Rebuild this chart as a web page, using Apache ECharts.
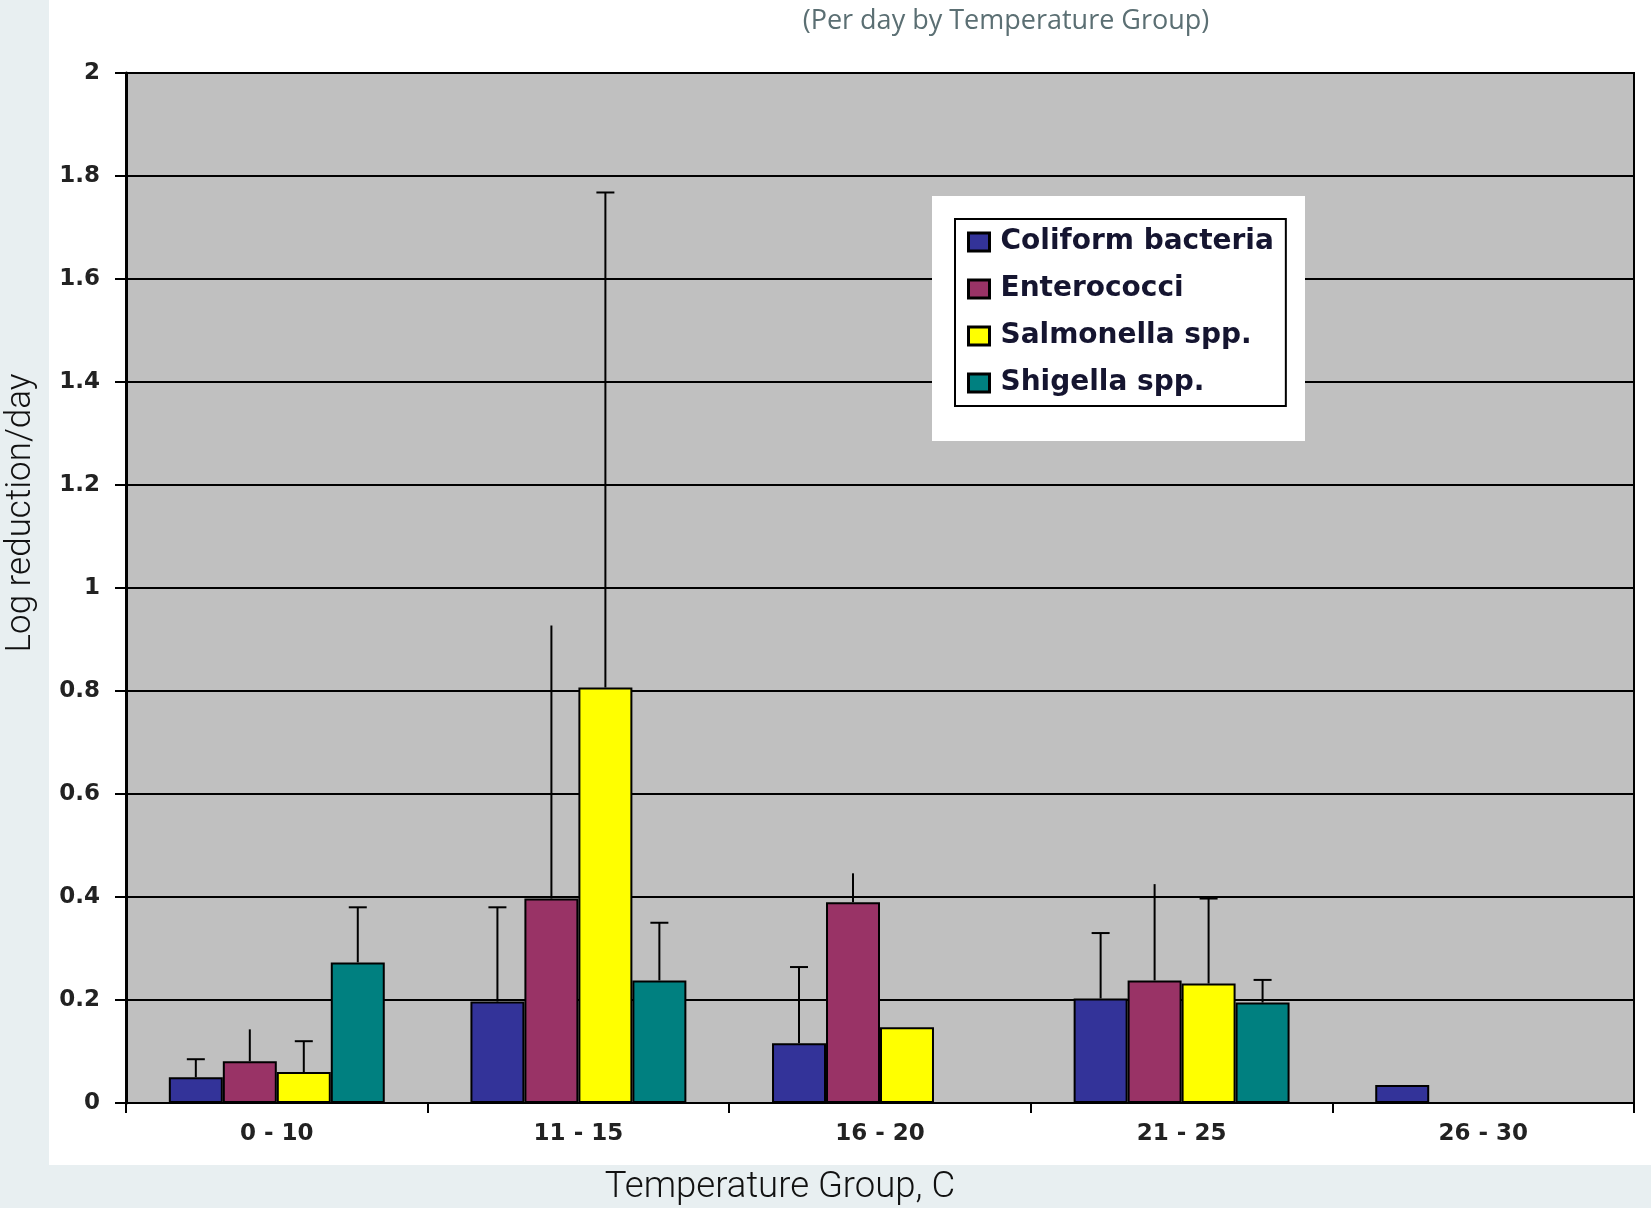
<!DOCTYPE html>
<html>
<head>
<meta charset="utf-8">
<title>Log reduction per day by temperature group</title>
<script src="https://cdn.jsdelivr.net/npm/echarts@6/dist/echarts.min.js"></script>
<style>
  html, body { margin: 0; padding: 0; background: #e8eff1; }
  #panel { position: absolute; left: 49px; top: 0; width: 1602px; height: 1165px; background: #ffffff; }
  #chart { position: absolute; left: 0; top: 0; width: 1651px; height: 1208px; }
</style>
</head>
<body>
<div id="panel"></div>
<div id="chart"></div>
<script>
// Temperature groups (degrees C)
const categories = ['0 - 10', '11 - 15', '16 - 20', '21 - 25', '26 - 30'];

// Mean log reduction per day
const coliform    = [0.050, 0.197, 0.116, 0.203, 0.035];
const enterococci = [0.081, 0.397, 0.390, 0.238, null];
const salmonella  = [0.060, 0.807, 0.147, 0.232, null];
const shigella    = [0.273, 0.238, null,  0.195, null];

// Standard deviation (upper error bar length)
const coliformSd    = [0.035, 0.183, 0.148, 0.127, null];
const enterococciSd = [0.062, 0.530, 0.056, 0.187, null];
const salmonellaSd  = [0.060, 0.961, null,  0.165, null];
const shigellaSd    = [0.107, 0.112, null,  0.044, null];

const seriesNames = ['Coliform bacteria', 'Enterococci', 'Salmonella spp.', 'Shigella spp.'];
const yTicks = { min: 0, max: 2, step: 0.2 };

const means = [coliform, enterococci, salmonella, shigella];
const sds = [coliformSd, enterococciSd, salmonellaSd, shigellaSd];
const colors = ['#333399', '#993366', '#ffff00', '#008080'];
const capped = [true, false, true, true];
const CATEGORY_GAP = 0.284;

const chart = echarts.init(document.getElementById('chart'), null, { renderer: 'canvas' });

const barSeries = means.map((vals, i) => ({
  name: seriesNames[i],
  type: 'bar',
  data: vals,
  barGap: '0%',
  barCategoryGap: (CATEGORY_GAP * 100) + '%',
  itemStyle: { color: colors[i], borderColor: '#000', borderWidth: 2 },
  z: 2
}));

// Error bars: one custom series per organism, offset to sit on its bar
const errorSeries = means.map((vals, i) => ({
  type: 'custom',
  name: seriesNames[i] + ' sd',
  z: 3,
  silent: true,
  data: vals.map((v, k) => (v == null || sds[i][k] == null) ? null : [k, v, sds[i][k]]).filter(d => d),
  renderItem: function (params, api) {
    const k = api.value(0);
    const mean = api.value(1);
    const sd = api.value(2);
    const base = api.coord([k, mean]);
    const top = api.coord([k, mean + sd]);
    const band = api.size([1, 0])[0];
    const bw = band * (1 - CATEGORY_GAP) / means.length;
    const x = base[0] + (i - (means.length - 1) / 2) * bw;
    const style = { stroke: '#000', lineWidth: 2 };
    const children = [
      { type: 'line', shape: { x1: x, y1: base[1], x2: x, y2: top[1] }, style: style }
    ];
    if (capped[i]) {
      children.push({ type: 'line', shape: { x1: x - 9, y1: top[1], x2: x + 9, y2: top[1] }, style: style });
    }
    return { type: 'group', children: children };
  }
}));

const option = {
  animation: false,
  title: {
    text: '(Per day by Temperature Group)',
    left: 1001,
    top: 3,
    textAlign: 'center',
    textStyle: { fontFamily: 'Open Sans', fontWeight: 'normal', fontSize: 27, color: '#5b6f73' }
  },
  grid: {
    left: 126, right: 17, top: 73, bottom: 105,
    show: true, backgroundColor: '#c0c0c0', borderColor: '#000', borderWidth: 2,
    containLabel: false
  },
  legend: {
    data: seriesNames,
    orient: 'vertical',
    left: 955,
    top: 219,
    padding: [8, 12, 8, 12],
    itemGap: 17,
    itemWidth: 21,
    itemHeight: 18,
    icon: 'rect',
    backgroundColor: '#ffffff',
    borderColor: '#000',
    borderWidth: 2,
    itemStyle: { borderColor: '#000', borderWidth: 3 },
    textStyle: { fontFamily: 'DejaVu Sans', fontWeight: 'bold', fontSize: 28, color: '#151530', lineHeight: 30, padding: [0, 0, 0, 6] },
    selectedMode: false,
    z: 10
  },
  xAxis: {
    type: 'category',
    data: categories,
    axisLine: { lineStyle: { color: '#000', width: 2 } },
    axisTick: { show: true, length: 10, lineStyle: { color: '#000', width: 2 } },
    axisLabel: { margin: 20, fontFamily: 'DejaVu Sans', fontWeight: 'bold', fontSize: 23, color: '#222' },
    splitLine: { show: false }
  },
  yAxis: {
    type: 'value',
    min: yTicks.min,
    max: yTicks.max,
    interval: yTicks.step,
    axisLine: { show: true, lineStyle: { color: '#000', width: 3 } },
    axisTick: { show: true, length: 11, lineStyle: { color: '#000', width: 2 } },
    axisLabel: { margin: 26, fontFamily: 'DejaVu Sans', fontWeight: 'bold', fontSize: 23, color: '#222' },
    splitLine: { show: true, lineStyle: { color: '#000', width: 2 } }
  },
  graphic: [
    {
      type: 'rect',
      z: 5,
      shape: { x: 932, y: 196, width: 373, height: 245 },
      style: { fill: '#ffffff' },
      silent: true
    },
    {
      type: 'text',
      x: 21,
      y: 513,
      rotation: Math.PI / 2,
      style: {
        text: 'Log reduction/day',
        fontFamily: 'Roboto', fontWeight: 300, fontSize: 35, fill: '#111',
        align: 'center', verticalAlign: 'middle'
      }
    },
    {
      type: 'text',
      x: 780,
      y: 1188,
      style: {
        text: 'Temperature Group, C',
        fontFamily: 'Roboto', fontWeight: 300, fontSize: 36.5, fill: '#111',
        align: 'center', verticalAlign: 'middle'
      }
    }
  ],
  series: barSeries.concat(errorSeries)
};

chart.setOption(option);
</script>
</body>
</html>
